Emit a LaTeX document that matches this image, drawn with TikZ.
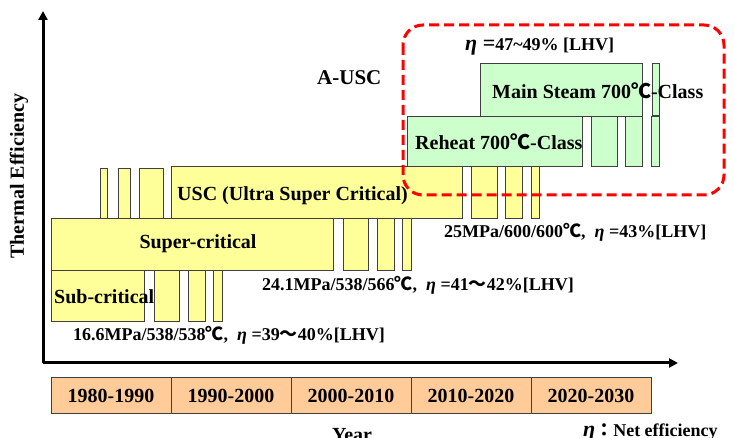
\documentclass[tikz,border=0pt]{standalone}
\usepackage{fontspec}
\setmainfont{Liberation Serif}
\newfontfamily\cjk{Noto Sans CJK JP}
\usetikzlibrary{arrows.meta}
\newcommand{\degC}{{\cjk ℃}}
\newcommand{\wtil}{{\cjk ～}}
\newcommand{\myeta}{{\itshape η}}
\definecolor{ylw}{HTML}{FFFF99}
\definecolor{grn}{HTML}{CCFFCC}
\definecolor{pch}{HTML}{FFCC99}
\definecolor{edge}{HTML}{404040}
\tikzset{
  ybox/.style={fill=ylw,draw=edge,line width=1pt},
  gbox/.style={fill=grn,draw=edge,line width=1pt},
  pbox/.style={fill=pch,draw=edge,line width=1pt},
  big/.style={font=\fontsize{20}{22}\selectfont\bfseries,inner sep=0pt},
  mid/.style={font=\fontsize{18}{20}\selectfont\bfseries,inner sep=0pt},
  axis/.style={line width=3pt,-{Triangle[length=9pt,width=9pt]}},
}
\begin{document}
\begin{tikzpicture}[x=1pt,y=-1pt]
\useasboundingbox (0,0) rectangle (734,438);
% axes
\coordinate (O) at (43,363);
\coordinate (ytop) at (43,11);
\coordinate (xend) at (678,363);
\draw[axis] (O) -- (ytop);
\draw[axis] (O) -- (xend);
% sub-critical row
\draw[ybox] (51,271) rectangle (144,322);
\draw[ybox] (154,271) rectangle (179,322);
\draw[ybox] (188,271) rectangle (205,322);
\draw[ybox] (213,271) rectangle (222,322);
% super-critical row
\draw[ybox] (51,219) rectangle (333,271);
\draw[ybox] (343,219) rectangle (368,271);
\draw[ybox] (377,219) rectangle (394,271);
\draw[ybox] (402,219) rectangle (411,271);
% USC row
\draw[ybox] (100,169) rectangle (107,219);
\draw[ybox] (118,169) rectangle (130,219);
\draw[ybox] (139,169) rectangle (163,219);
\draw[ybox] (171,167) rectangle (462,219);
\draw[ybox] (471,167) rectangle (497,219);
\draw[ybox] (505,167) rectangle (522,219);
\draw[ybox] (531,167) rectangle (539,219);
% reheat row
\draw[gbox] (407,117) rectangle (582,167);
\draw[gbox] (591,117) rectangle (617,167);
\draw[gbox] (625,117) rectangle (642,167);
\draw[gbox] (651,117) rectangle (659,167);
% main steam row
\draw[gbox] (480,64) rectangle (642,117);
\draw[gbox] (652,64) rectangle (659,116);
% labels
\node[big,anchor=west] (sub) at (54,297) {Sub-critical};
\node[big] (sup) at (198,244) {Super-critical};
\node[big,anchor=west] (usc) at (177,196) {USC (Ultra Super Critical)};
\node[big,anchor=west] (rh) at (415,142) {Reheat 700\degC-Class};
\node[big,anchor=west] (ms) at (492,91) {Main Steam 700\degC-Class};
\node[font=\fontsize{21}{22}\selectfont\bfseries,inner sep=0pt,anchor=west] (ausc) at (317,78) {A-USC};
\node[mid,anchor=west] (eff) at (465,47) {{\fontsize{22}{22}\selectfont\myeta\ =}47\textasciitilde49\% [LHV]};
\node[mid,anchor=west] (c1) at (73,335) {16.6MPa/538/538\degC,\ \ \myeta\ =39\wtil40\%[LHV]};
\node[mid,anchor=west] (c2) at (262,285) {24.1MPa/538/566\degC,\ \ \myeta\ =41\wtil42\%[LHV]};
\node[mid,anchor=west] (c3) at (444,232) {25MPa/600/600\degC,\ \ \myeta\ =43\%[LHV]};
\node[big,rotate=90] (ylab) at (19,176) {Thermal Efficiency};
% timeline
\foreach \i/\t in {0/1980-1990,1/1990-2000,2/2000-2010,3/2010-2020,4/2020-2030}{
  \draw[pbox] (51+120*\i,378) rectangle (171+120*\i,413);
  \node[big] (t\i) at (111+120*\i,395.5) {\t};
}
\node[big,anchor=base] (year) at (352,442) {Year};
\node[font=\fontsize{18}{20}\selectfont\bfseries,inner sep=0pt,anchor=base west] (net) at (583,436) {{\fontsize{22}{22}\selectfont\myeta}{\cjk ：}Net efficiency};
% A-USC dashed frame
\draw[red,line width=3pt,dash pattern=on 10pt off 5pt,rounded corners=20pt] (403,25) rectangle (724,195);
\end{tikzpicture}
\end{document}
